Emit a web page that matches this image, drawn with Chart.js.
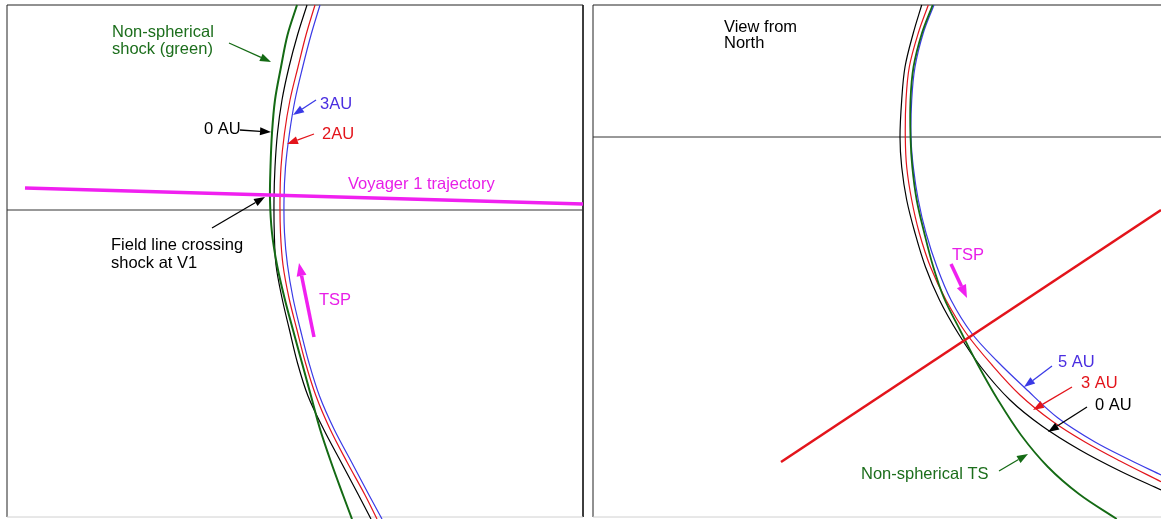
<!DOCTYPE html>
<html>
<head>
<meta charset="utf-8">
<script src="https://cdn.jsdelivr.net/npm/chart.js@4"></script>
<style>
html,body{margin:0;padding:0;background:#fff;overflow:hidden;}
canvas{display:block;}
</style>
</head>
<body>
<canvas id="c" width="1161" height="519"></canvas>
<script>
// ---------- Data (diagram coordinates) ----------
// Left panel: shock surfaces (meridional view)
const leftShockGreen = [[297,5],[287.5,35],[281,67],[275,100],[272,133],[270.5,167],[270,200],[272,233],[277,265],[284.5,298],[293,330],[302,363],[311,396],[320,429],[331,462],[343,495],[352,519]];
const leftShock0AU  = [[307,5],[297.5,35],[289,67],[282,100],[277.5,133],[275,167],[274,200],[274.3,233],[276,265],[282,298],[289.5,330],[297.5,363],[308,396],[323.5,429],[341,462],[358.5,495],[371,519]];
const leftShock2AU  = [[315,5],[306,35],[298,67],[290,100],[284.5,133],[281,167],[280,200],[280.5,233],[283,265],[289,298],[297,330],[305.5,363],[316,396],[330,429],[347,462],[365,495],[377,519]];
const leftShock3AU  = [[320,5],[311,35],[302.7,67],[295,100],[289.5,133],[285.5,167],[284,200],[284.5,233],[287.5,265],[293,298],[300.5,330],[309,363],[319.5,396],[334,429],[351.5,462],[369,495],[382,519]];
const voyagerTrajectory = [[25,188],[583,204]];
const leftEquator = [[7,210],[583,210]];

// Right panel: view from North
const rightShockGreen = [[932.7,5],[922,33],[913.5,67],[910.5,100],[910.5,137],[912.3,167],[916.7,200],[924.3,233],[933.3,267],[944,298],[960,330],[978,365],[998,400],[1021,435],[1048,467],[1079,494],[1116.7,519]];
const rightShock0AU  = [[921.7,5],[913.3,33],[905,67],[901.7,100],[900,137],[901.7,167],[906.7,200],[915,233],[925.5,267],[939.5,300],[958,333],[981,367],[1010,400],[1042,426],[1080,450],[1120,471],[1161,490]];
const rightShock3AU  = [[928.3,5],[918.3,33],[909.3,67],[906,100],[905.3,137],[906.7,167],[911.7,200],[919.3,233],[930.5,267],[946,300],[966,333],[992,365],[1020,395],[1052,421],[1085,442],[1120,461],[1161,481.7]];
const rightShock5AU  = [[934,5],[923.3,33],[915,67],[911.7,100],[911,137],[913.3,167],[918.3,200],[926,233],[937,267],[951,300],[971.5,333],[997,361],[1025,388],[1058,418],[1095,442],[1130,460],[1161,475]];
const rightTrajectory = [[781,462],[1161,210]];
const rightEquator = [[593,137],[1161,137]];

// Panel frames
const leftFrame = [[7,517],[7,5],[583,5],[583,517]];
const leftFrameBottom = [[7,517],[583,517]];
const rightFrame = [[593,517],[593,5],[1161,5]];
const rightFrameBottom = [[593,517],[1161,517]];

// Labels: text, x, baseline y, colour
const labelTexts = ["Non-spherical","shock (green)","3AU","2AU","0 AU","Voyager 1 trajectory","Field line crossing","shock at V1","TSP",
                    "View from","North","TSP","5 AU","3 AU","0 AU","Non-spherical TS"];
const labelX = [112,112,320,322,204,348,111,111,319, 724,724,952,1058,1081,1095,861];
const labelY = [37,54,109,139,134,189,250,268,305, 32,48,260,367,388,410,479];
const labelColorKey = ["green","green","blue","red","black","magenta","black","black","magenta",
                       "black","black","magenta","blue","red","black","green"];

// Arrows: from -> to
const arrowFrom = [[229,43],[316,100],[314,134],[240,130],[212,228],[314,337], [951,264],[1052,366],[1072,387],[1087,407],[999,471]];
const arrowTo   = [[271,62],[293,115],[287,144],[271,132],[265,197],[299,263], [967,298],[1024,387],[1033,410],[1048,432],[1028,454]];
const arrowColorKey = ["green","blue","red","black","black","magenta","magenta","blue","red","black","green"];

// ---------- Styling ----------
const COLORS = {green:"#146a14", black:"#000000", red:"#e3141b", blue:"#3a3ae6", magenta:"#f020f0", frame:"#222222", frameLight:"#d0d0d0"};
const TEXT_COLORS = {green:"#1c6e1c", black:"#000000", red:"#e3141b", blue:"#4a2ee0", magenta:"#e81ee8"};

const toPts = a => a.map(p => ({x:p[0], y:p[1]}));
function ds(arr, color, width, tension) {
  return {data: toPts(arr), showLine: true, borderColor: color, borderWidth: width,
          pointRadius: 0, pointHoverRadius: 0, tension: tension, fill: false};
}

const datasets = [
  ds(leftFrame, COLORS.frame, 1, 0),
  ds(leftFrameBottom, COLORS.frameLight, 1, 0),
  ds(rightFrame, COLORS.frame, 1, 0),
  ds(rightFrameBottom, COLORS.frameLight, 1, 0),
  ds(leftEquator, "#333333", 1, 0),
  ds(rightEquator, "#333333", 1, 0),
  ds(leftShock3AU, COLORS.blue, 1.2, 0.35),
  ds(leftShock2AU, COLORS.red, 1.2, 0.35),
  ds(leftShock0AU, COLORS.black, 1.2, 0.35),
  ds(leftShockGreen, COLORS.green, 2, 0.35),
  ds(voyagerTrajectory, COLORS.magenta, 3.5, 0),
  ds(rightShock5AU, COLORS.blue, 1.2, 0.35),
  ds(rightShock3AU, COLORS.red, 1.2, 0.35),
  ds(rightShock0AU, COLORS.black, 1.2, 0.35),
  ds(rightShockGreen, COLORS.green, 1.8, 0.35),
  ds(rightTrajectory, COLORS.red, 2.6, 0)
];
datasets.forEach((d,i)=>{ d.order = datasets.length - i; });

const annotate = {
  id: 'annotate',
  afterDatasetsDraw(chart) {
    const ctx = chart.ctx, xs = chart.scales.x, ys = chart.scales.y;
    ctx.save();
    arrowFrom.forEach((f, i) => {
      const t = arrowTo[i];
      const x1 = xs.getPixelForValue(f[0]), y1 = ys.getPixelForValue(f[1]);
      const x2 = xs.getPixelForValue(t[0]), y2 = ys.getPixelForValue(t[1]);
      const col = COLORS[arrowColorKey[i]];
      const thick = arrowColorKey[i] === 'magenta';
      const ang = Math.atan2(y2 - y1, x2 - x1);
      const hl = thick ? 13 : 11, hw = thick ? 5 : 4;
      const bx = x2 - hl * Math.cos(ang), by = y2 - hl * Math.sin(ang);
      ctx.strokeStyle = col; ctx.fillStyle = col;
      ctx.lineWidth = thick ? 3.5 : 1.3;
      ctx.beginPath(); ctx.moveTo(x1, y1); ctx.lineTo(bx, by); ctx.stroke();
      ctx.beginPath();
      ctx.moveTo(x2, y2);
      ctx.lineTo(bx + hw * Math.sin(ang), by - hw * Math.cos(ang));
      ctx.lineTo(bx - hw * Math.sin(ang), by + hw * Math.cos(ang));
      ctx.closePath(); ctx.fill();
    });
    ctx.font = "16.5px 'Liberation Sans', Arial, sans-serif";
    ctx.textBaseline = 'alphabetic';
    ctx.textAlign = 'left';
    labelTexts.forEach((txt, i) => {
      ctx.fillStyle = TEXT_COLORS[labelColorKey[i]];
      ctx.fillText(txt, xs.getPixelForValue(labelX[i]), ys.getPixelForValue(labelY[i]));
    });
    ctx.restore();
  }
};

new Chart(document.getElementById('c'), {
  type: 'scatter',
  data: {datasets},
  options: {
    responsive: false,
    animation: false,
    events: [],
    layout: {padding: 0},
    plugins: {legend: {display: false}, tooltip: {enabled: false}},
    scales: {
      x: {type: 'linear', min: 0, max: 1161, display: false},
      y: {type: 'linear', min: 0, max: 519, reverse: true, display: false}
    }
  },
  plugins: [annotate]
});
</script>
</body>
</html>
